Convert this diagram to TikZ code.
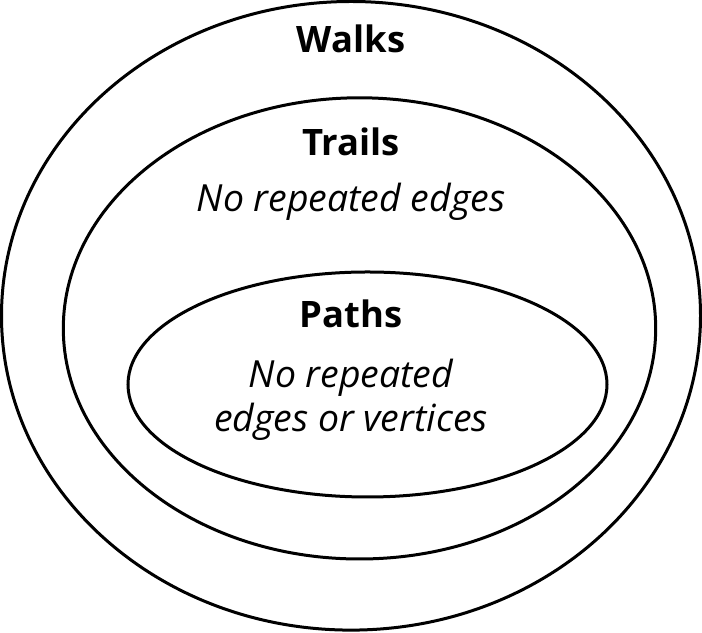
\documentclass[tikz,border=0pt]{standalone}
\usepackage{fontspec}
\setmainfont{Open Sans}
\usetikzlibrary{shapes.geometric}
\begin{document}
\begin{tikzpicture}[
  ring/.style={draw,ellipse,line width=0.075cm,inner sep=0pt},
  title/.style={anchor=base,font=\bfseries\fontsize{25.9}{31.9}\selectfont},
  note/.style={anchor=base,align=center,font=\itshape\fontsize{26.6}{31.9}\selectfont}]

\useasboundingbox (0,0) rectangle (17.55,15.825);

\node (A) at (8.775,7.93) [ring,minimum width=17.475cm,minimum height=15.715cm] {};
\node (B) at (8.9875,7.615) [ring,minimum width=14.81cm,minimum height=11.53cm] {};
\node (C) at (9.1875,6.2125) [ring,minimum width=11.975cm,minimum height=5.625cm] {};

\node (A1) at (8.775,14.5) [title] {Walks};
\node (B1) at (8.775,11.925) [title] {Trails};
\node (B2) at (8.775,10.525) [note] {No repeated edges};
\node (C1) at (8.775,7.625) [title] {Paths};
\node (C2) at (8.775,5.025) [note] {No repeated\\edges or vertices};

\end{tikzpicture}
\end{document}
